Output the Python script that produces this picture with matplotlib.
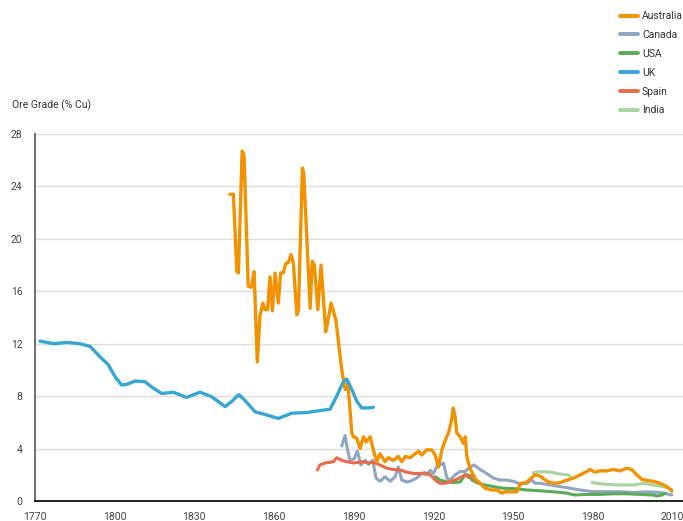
import numpy as np
import matplotlib
matplotlib.use('Agg')
import matplotlib.pyplot as plt

plt.rcParams['font.family'] = ['Roboto', 'DejaVu Sans']

# --- data (year, % Cu) ---
aus_years = [1843.4, 1844.7, 1846.0, 1846.6, 1848.0, 1848.7, 1850.3, 1851.5, 1852.5, 1853.7,
             1854.7, 1855.8, 1856.6, 1857.6, 1858.5, 1859.4, 1860.4, 1861.6, 1862.5, 1863.5,
             1864.4, 1865.4, 1866.4, 1867.3, 1868.6, 1869.2, 1870.7, 1871.2, 1873.6, 1874.4,
             1875.2, 1876.5, 1877.7, 1879.5, 1881.5, 1883.3, 1885.5, 1886.8, 1887.8, 1889.3,
             1889.9, 1891.1, 1892.4, 1893.7, 1894.7, 1896.2, 1897.4, 1898.7, 1899.9, 1901.8,
             1903.0, 1905.0, 1906.8, 1908.1, 1909.4, 1911.2, 1913.1, 1914.4, 1915.6, 1917.5,
             1919.4, 1920.7, 1921.9, 1923.2, 1924.4, 1925.7, 1926.9, 1927.5, 1928.2, 1928.8,
             1930.1, 1931.3, 1932.0, 1932.6, 1933.8, 1935.7, 1937.6, 1939.5, 1942.0, 1943.9,
             1945.8, 1947.0, 1951.4, 1952.7, 1955.2, 1958.3, 1960.2, 1962.1, 1964.0, 1965.9,
             1967.7, 1970.3, 1972.8, 1975.3, 1977.8, 1979.0, 1980.9, 1982.8, 1985.3, 1987.8,
             1990.3, 1992.8, 1994.7, 1996.6, 1998.5, 2001.0, 2002.9, 2005.4, 2007.9, 2009.8]
aus_grade = [23.4, 23.4, 17.5, 17.4, 26.7, 26.4, 16.4, 16.3, 17.5, 10.6,
             14.1, 15.1, 14.6, 14.6, 17.1, 14.5, 17.4, 15.1, 17.4, 17.4,
             18.1, 18.2, 18.8, 18.1, 14.2, 14.6, 25.4, 25.0, 14.7, 18.3,
             18.0, 14.6, 18.0, 12.9, 15.1, 13.8, 10.0, 8.5, 9.0, 5.2,
             4.9, 4.8, 4.0, 4.9, 4.5, 4.9, 3.9, 3.0, 3.6, 3.0,
             3.3, 3.1, 3.4, 3.0, 3.4, 3.3, 3.6, 3.8, 3.5, 3.9,
             3.9, 3.5, 2.6, 3.9, 4.6, 5.2, 6.2, 7.1, 6.4, 5.2,
             4.9, 4.4, 4.9, 3.4, 2.5, 1.7, 1.35, 0.97, 0.84, 0.84,
             0.6, 0.7, 0.7, 1.3, 1.45, 2.0, 1.9, 1.6, 1.4, 1.35,
             1.4, 1.6, 1.75, 2.0, 2.25, 2.4, 2.2, 2.3, 2.3, 2.4,
             2.3, 2.5, 2.4, 2.0, 1.65, 1.55, 1.5, 1.35, 1.1, 0.8]

can_years = [1845.5, 1847.0, 1848.0, 1849.0,
             1885.5, 1886.8, 1887.4, 1888.6, 1890.1, 1891.4, 1892.7, 1894.3, 1895.5, 1897.2,
             1898.4, 1899.9, 1901.8, 1903.7, 1905.6, 1906.8, 1908.1, 1910.0, 1911.2, 1913.7,
             1915.6, 1917.5, 1918.8, 1920.0, 1921.3, 1922.5, 1923.8, 1925.1, 1926.3, 1928.2,
             1930.1, 1932.0, 1933.8, 1935.3, 1937.6, 1940.1, 1942.6, 1945.1, 1947.6, 1950.2,
             1952.7, 1955.2, 1957.1, 1958.3, 1960.2, 1964.0, 1967.7, 1971.5, 1975.3, 1980.3,
             1985.3, 1990.3, 1995.3, 2000.4, 2005.4, 2009.8]
can_grade = [7.9, 8.1, 7.9, np.nan,
             4.2, 5.0, 4.2, 3.1, 3.2, 3.8, 2.75, 3.1, 2.8, 3.1,
             1.75, 1.5, 1.85, 1.5, 1.85, 2.6, 1.6, 1.45, 1.5, 1.75,
             2.1, 2.0, 2.35, 2.1, 2.6, 2.75, 2.9, 1.75, 1.6, 2.0,
             2.25, 2.25, 2.6, 2.75, 2.4, 2.1, 1.75, 1.6, 1.6, 1.5,
             1.3, 1.35, 1.6, 1.35, 1.35, 1.22, 1.1, 0.97, 0.84, 0.71,
             0.71, 0.71, 0.65, 0.7, 0.65, 0.46]

usa_years = [1920.7, 1922.5, 1925.1, 1927.6, 1930.1, 1932.0, 1933.0, 1934.5, 1937.0, 1939.5,
             1942.6, 1946.4, 1950.2, 1955.2, 1960.2, 1965.2, 1970.3, 1973.0, 1977.8, 1982.8,
             1987.8, 1992.8, 1997.8, 2002.9, 2004.1, 2006.0, 2007.3]
usa_grade = [1.85, 1.6, 1.47, 1.4, 1.45, 2.0, 2.0, 1.6, 1.35, 1.22,
             1.1, 0.97, 0.95, 0.84, 0.78, 0.7, 0.6, 0.46, 0.5, 0.5,
             0.55, 0.55, 0.5, 0.46, 0.38, 0.45, 0.6]

uk_years = [1771.9, 1776.9, 1781.9, 1786.9, 1790.7, 1794.5, 1797.6, 1800.1, 1802.6, 1804.5,
            1807.7, 1811.4, 1813.9, 1817.7, 1822.1, 1827.1, 1832.1, 1836.5, 1841.6, 1844.1,
            1846.6, 1848.5, 1852.9, 1857.3, 1861.6, 1866.7, 1872.3, 1877.3, 1881.1, 1883.6,
            1886.1, 1887.4, 1889.3, 1891.2, 1893.0, 1895.5, 1897.4]
uk_grade = [12.2, 12.0, 12.1, 12.0, 11.8, 11.0, 10.4, 9.5, 8.85, 8.9,
            9.15, 9.1, 8.7, 8.2, 8.3, 7.9, 8.3, 7.96, 7.2, 7.6,
            8.1, 7.8, 6.8, 6.56, 6.3, 6.7, 6.75, 6.9, 7.0, 8.0,
            9.1, 9.3, 8.5, 7.6, 7.1, 7.1, 7.15]

spain_years = [1876.3, 1877.3, 1879.2, 1881.1, 1882.4, 1883.6, 1885.5, 1887.4, 1889.9, 1891.8,
               1893.7, 1895.5, 1897.4, 1899.9, 1902.5, 1905.0, 1907.5, 1910.0, 1912.5, 1915.0,
               1916.9, 1918.8, 1920.7, 1922.5, 1924.4, 1926.3, 1928.8, 1930.7, 1932.0, 1933.2,
               1934.5, 1935.7, 1937.0]
spain_grade = [2.37, 2.75, 2.9, 2.95, 3.0, 3.3, 3.1, 3.0, 2.9, 2.95,
               3.0, 2.9, 2.95, 2.75, 2.5, 2.4, 2.37, 2.2, 2.1, 2.1,
               2.15, 2.0, 1.6, 1.35, 1.35, 1.47, 1.65, 1.85, 2.0, 1.8,
               2.0, 1.6, 1.47]

india_years = [1957.7, 1960.2, 1964.0, 1967.7, 1970.9, 1972.1, 1976.0, 1979.7, 1981.5, 1985.3,
               1990.3, 1995.3, 1999.1, 2002.9, 2006.6, 2009.2, 2009.8]
india_grade = [2.16, 2.24, 2.2, 2.06, 1.98, 1.8, np.nan, 1.42, 1.35, 1.27,
               1.22, 1.22, 1.35, 1.22, 1.1, 0.9, 0.7]

x_ticks = [1770, 1800, 1830, 1860, 1890, 1920, 1950, 1980, 2010]
y_ticks = [0, 4, 8, 12, 16, 20, 24, 28]

fig = plt.figure(figsize=(6.83, 5.21), dpi=100)
ax = fig.add_axes([35/683, 20/521, 648/683, 367/521])

# draw order: bottom first
kw = dict(solid_joinstyle='round', solid_capstyle='round')
ax.plot(india_years, india_grade, color='#a9d4a0', lw=2.2, label='India', zorder=2, **kw)
ax.plot(can_years, can_grade, color='#8fa5c1', lw=2.2, label='Canada', zorder=3, **kw)
ax.plot(usa_years, usa_grade, color='#5aab57', lw=2.2, label='USA', zorder=3, **kw)
ax.plot(spain_years, spain_grade, color='#ec6a4c', lw=2.2, label='Spain', zorder=4, **kw)
ax.plot(aus_years, aus_grade, color='#f39200', lw=2.4, label='Australia', zorder=5, **kw)
ax.plot(uk_years, uk_grade, color='#38a6d2', lw=2.4, label='UK', zorder=6, **kw)

ax.set_xlim(1770, 2014)
ax.set_ylim(0, 28)
ax.set_xticks(x_ticks)
ax.set_yticks(y_ticks)
ax.tick_params(length=0, labelsize=7.5, colors='#444444')
ax.tick_params(axis='x', pad=8)
ax.tick_params(axis='y', pad=9)
ax.yaxis.grid(True, color='#dddddd', lw=1)
ax.set_axisbelow(True)
for s in ['top', 'right']:
    ax.spines[s].set_visible(False)
ax.spines['left'].set_color('#666666')
ax.spines['left'].set_linewidth(1.3)
ax.spines['bottom'].set_color('#111111')
ax.spines['bottom'].set_linewidth(1.3)

fig.text(12/683, 1 - 105/521, 'Ore Grade (% Cu)', fontsize=7.5, color='#333333', va='center')

# legend in the order shown on the chart
h, l = ax.get_legend_handles_labels()
order = ['Australia', 'Canada', 'USA', 'UK', 'Spain', 'India']
hd = dict(zip(l, h))
leg = fig.legend([hd[k] for k in order], order, loc='upper left',
                 bbox_to_anchor=(616/683, 1 - 7/521), frameon=False,
                 fontsize=7.5, handlelength=1.7, handletextpad=0.4,
                 labelspacing=0.85, borderaxespad=0)
for t in leg.get_texts():
    t.set_color('#333333')
for ln in leg.get_lines():
    ln.set_linewidth(2.8)

plt.savefig('out.png', dpi=100)
